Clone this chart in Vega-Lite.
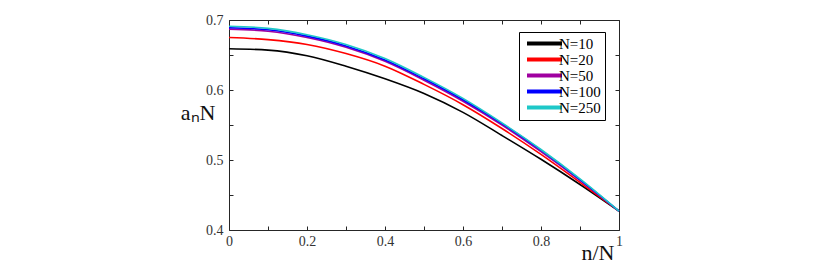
{
  "$schema": "https://vega.github.io/schema/vega-lite/v6.json",
  "width": 390,
  "height": 210,
  "autosize": {"type": "none"},
  "padding": {"left": 229, "top": 20, "right": 212, "bottom": 34},
  "background": "white",
  "config": {
    "view": {"stroke": "#262626", "strokeWidth": 1},
    "font": "Times New Roman",
    "axis": {
      "grid": false,
      "domain": false,
      "tickColor": "#262626",
      "tickWidth": 1,
      "tickSize": -4,
      "labelFont": "Times New Roman",
      "labelFontSize": 14,
      "labelColor": "#333333",
      "labelFlush": false,
      "labelOverlap": false,
      "labelBound": false,
      "titleFont": "Times New Roman",
      "titleFontWeight": "normal",
      "titleColor": "#111111"
    },
    "legend": {"labelFont": "Times New Roman"}
  },
  "data": {
    "values": [
      {"x": 0.0, "y": 0.659, "N": "N=10"},
      {"x": 0.1, "y": 0.657, "N": "N=10"},
      {"x": 0.2, "y": 0.649, "N": "N=10"},
      {"x": 0.3, "y": 0.634, "N": "N=10"},
      {"x": 0.4, "y": 0.616, "N": "N=10"},
      {"x": 0.5, "y": 0.595, "N": "N=10"},
      {"x": 0.6, "y": 0.568, "N": "N=10"},
      {"x": 0.7, "y": 0.535, "N": "N=10"},
      {"x": 0.8, "y": 0.501, "N": "N=10"},
      {"x": 0.9, "y": 0.465, "N": "N=10"},
      {"x": 1.0, "y": 0.427, "N": "N=10"},
      {"x": 0.0, "y": 0.675, "N": "N=20"},
      {"x": 0.1, "y": 0.672, "N": "N=20"},
      {"x": 0.2, "y": 0.665, "N": "N=20"},
      {"x": 0.3, "y": 0.652, "N": "N=20"},
      {"x": 0.4, "y": 0.634, "N": "N=20"},
      {"x": 0.5, "y": 0.608, "N": "N=20"},
      {"x": 0.6, "y": 0.579, "N": "N=20"},
      {"x": 0.7, "y": 0.545, "N": "N=20"},
      {"x": 0.8, "y": 0.508, "N": "N=20"},
      {"x": 0.9, "y": 0.468, "N": "N=20"},
      {"x": 1.0, "y": 0.427, "N": "N=20"},
      {"x": 0.0, "y": 0.687, "N": "N=50"},
      {"x": 0.1, "y": 0.684, "N": "N=50"},
      {"x": 0.2, "y": 0.675, "N": "N=50"},
      {"x": 0.3, "y": 0.661, "N": "N=50"},
      {"x": 0.4, "y": 0.641, "N": "N=50"},
      {"x": 0.5, "y": 0.614, "N": "N=50"},
      {"x": 0.6, "y": 0.584, "N": "N=50"},
      {"x": 0.7, "y": 0.550, "N": "N=50"},
      {"x": 0.8, "y": 0.512, "N": "N=50"},
      {"x": 0.9, "y": 0.471, "N": "N=50"},
      {"x": 1.0, "y": 0.427, "N": "N=50"},
      {"x": 0.0, "y": 0.689, "N": "N=100"},
      {"x": 0.1, "y": 0.686, "N": "N=100"},
      {"x": 0.2, "y": 0.677, "N": "N=100"},
      {"x": 0.3, "y": 0.663, "N": "N=100"},
      {"x": 0.4, "y": 0.643, "N": "N=100"},
      {"x": 0.5, "y": 0.616, "N": "N=100"},
      {"x": 0.6, "y": 0.586, "N": "N=100"},
      {"x": 0.7, "y": 0.552, "N": "N=100"},
      {"x": 0.8, "y": 0.514, "N": "N=100"},
      {"x": 0.9, "y": 0.472, "N": "N=100"},
      {"x": 1.0, "y": 0.427, "N": "N=100"},
      {"x": 0.0, "y": 0.691, "N": "N=250"},
      {"x": 0.1, "y": 0.688, "N": "N=250"},
      {"x": 0.2, "y": 0.679, "N": "N=250"},
      {"x": 0.3, "y": 0.665, "N": "N=250"},
      {"x": 0.4, "y": 0.645, "N": "N=250"},
      {"x": 0.5, "y": 0.618, "N": "N=250"},
      {"x": 0.6, "y": 0.588, "N": "N=250"},
      {"x": 0.7, "y": 0.553, "N": "N=250"},
      {"x": 0.8, "y": 0.515, "N": "N=250"},
      {"x": 0.9, "y": 0.473, "N": "N=250"},
      {"x": 1.0, "y": 0.427, "N": "N=250"}
    ]
  },
  "layer": [
    {
      "mark": {"type": "line", "strokeWidth": 1.6, "interpolate": "monotone"},
      "encoding": {
        "x": {
          "field": "x", "type": "quantitative",
          "scale": {"domain": [0, 1], "nice": false, "zero": false},
          "axis": {
            "orient": "bottom",
            "values": [0, 0.1, 0.2, 0.3, 0.4, 0.5, 0.6, 0.7, 0.8, 0.9, 1],
            "labelExpr": "round(datum.value*10)%2==0 ? format(datum.value, '.1~f') : ''",
            "labelPadding": 8,
            "title": "n/N",
            "titleFontSize": 22,
            "titleAlign": "right",
            "titleBaseline": "alphabetic",
            "titleAnchor": null,
            "titleX": 385,
            "titleY": 29
          }
        },
        "y": {
          "field": "y", "type": "quantitative",
          "scale": {"domain": [0.4, 0.7], "nice": false, "zero": false},
          "axis": {
            "orient": "left",
            "values": [0.4, 0.45, 0.5, 0.55, 0.6, 0.65, 0.7],
            "labelExpr": "round(datum.value*100)%10==0 ? format(datum.value, '.1f') : ''",
            "labelPadding": 10,
            "title": "aₙN",
            "titleFontSize": 22,
            "titleAngle": 0,
            "titleAlign": "right",
            "titleBaseline": "middle",
            "titleAnchor": null,
            "titleX": -14,
            "titleY": 92
          }
        },
        "color": {
          "field": "N", "type": "nominal",
          "scale": {
            "domain": ["N=10", "N=20", "N=50", "N=100", "N=250"],
            "range": ["#000000", "#ff0000", "#a000a0", "#0000ff", "#1ec8c8"]
          },
          "legend": {
            "orient": "none",
            "legendX": 290,
            "legendY": 12,
            "title": null,
            "strokeColor": "#000000",
            "fillColor": "#ffffff",
            "padding": 4,
            "symbolType": "M-5,0H5",
            "symbolSize": 49,
            "symbolStrokeWidth": 4,
            "symbolOffset": 14,
            "labelFont": "Times New Roman",
            "labelFontSize": 15,
            "labelColor": "#000000",
            "labelOffset": 7,
            "rowPadding": -5
          }
        }
      }
    },
    {
      "mark": {"type": "line", "opacity": 0},
      "encoding": {
        "x": {
          "field": "x", "type": "quantitative",
          "axis": {
            "orient": "top",
            "values": [0, 0.1, 0.2, 0.3, 0.4, 0.5, 0.6, 0.7, 0.8, 0.9, 1],
            "labels": false,
            "title": null
          }
        },
        "y": {
          "field": "y", "type": "quantitative",
          "axis": {
            "orient": "right",
            "values": [0.4, 0.45, 0.5, 0.55, 0.6, 0.65, 0.7],
            "labels": false,
            "title": null
          }
        },
        "detail": {"field": "N", "type": "nominal"}
      }
    }
  ],
  "resolve": {"axis": {"x": "independent", "y": "independent"}}
}
